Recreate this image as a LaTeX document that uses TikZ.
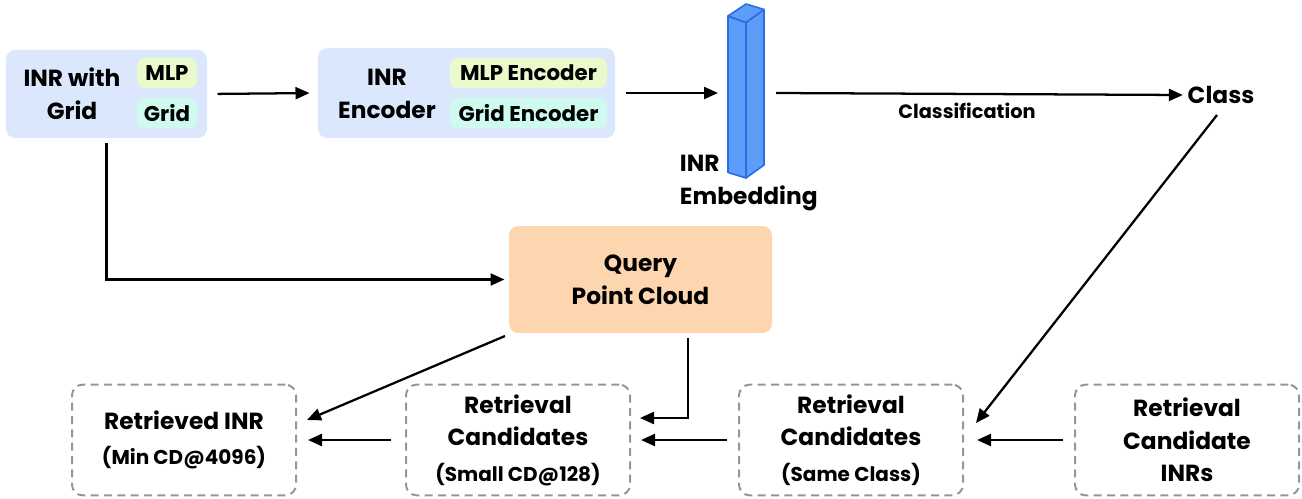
\documentclass[tikz,border=0pt]{standalone}
\usepackage{fontspec}
\setmainfont{Poppins}
\usetikzlibrary{arrows.meta}

\definecolor{boxblue}{RGB}{218,231,252}
\definecolor{pillgreen}{RGB}{235,250,205}
\definecolor{pillcyan}{RGB}{206,250,240}
\definecolor{peach}{RGB}{253,214,176}
\definecolor{barfill}{RGB}{92,157,247}
\definecolor{baredge}{RGB}{43,107,230}
\definecolor{dashgray}{RGB}{150,150,150}

\newcommand{\bigtxt}{\fontsize{17.5}{24.5}\selectfont\bfseries}
\newcommand{\subtxt}{\fontsize{15}{18}\selectfont\bfseries}

\tikzset{
	big/.style={font=\bigtxt},
	small/.style={font=\fontsize{16}{19}\selectfont\bfseries},
	tiny/.style={font=\fontsize{14.5}{17}\selectfont\bfseries},
	panel/.style={rounded corners=7pt, inner sep=0pt},
	pill/.style={rounded corners=6pt, minimum height=22.5pt, inner sep=0pt, small},
	dashbox/.style={draw=dashgray, line width=1.5pt, dash pattern={on 6pt off 4pt}, rounded corners=8pt, minimum width=168pt, minimum height=83pt, align=center, inner sep=0pt, font=\bigtxt},
	arr/.style={line width=1.7pt, -{Triangle[length=10.5pt,width=9pt]}}
}
\tikzset{every picture/.style={line width=0.75pt}}

\begin{document}
\begin{tikzpicture}[x=0.75pt,y=0.75pt,yscale=-1,xscale=1]
	\path[use as bounding box] (0,0) rectangle (1302,499);

	%Rounded Rect [id:inrgrid]
	\node [panel, fill=boxblue, minimum width=150.75pt, minimum height=66pt] (inrgrid) at (106.5,94) {};
	% Text Node
	\node [big, align=center] (inrgridtxt) at (72,94) {INR with\\Grid};
	%Rounded Rect [id:mlp]
	\node [pill, fill=pillgreen, minimum width=45pt] (mlp) at (167,73) {MLP};
	%Rounded Rect [id:grid]
	\node [pill, fill=pillcyan, minimum width=45pt] (grid) at (167,113) {Grid};

	%Rounded Rect [id:encoder]
	\node [panel, fill=boxblue, minimum width=222.75pt, minimum height=67.5pt] (encoder) at (466.5,93) {};
	% Text Node
	\node [big, align=center] (encodertxt) at (387,94) {INR\\Encoder};
	%Rounded Rect [id:mlpenc]
	\node [pill, fill=pillgreen, minimum width=117.75pt] (mlpenc) at (528.5,73) {MLP Encoder};
	%Rounded Rect [id:gridenc]
	\node [pill, fill=pillcyan, minimum width=117.75pt] (gridenc) at (528.5,113) {Grid Encoder};

	%Shape: Bar [id:embedding]
	\draw [fill=barfill, draw=baredge, line width=1.2pt, line join=round] (728,16) -- (746,22.5) -- (746,178) -- (728,172.5) -- cycle ;
	\draw [fill=barfill, draw=baredge, line width=1.2pt, line join=round] (746,22.5) -- (764,9.5) -- (764,165) -- (746,178) -- cycle ;
	\draw [fill=barfill, draw=baredge, line width=1.2pt, line join=round] (728,16) -- (746,4) -- (764,9.5) -- (746,22.5) -- cycle ;
	\coordinate (embin) at (718,93);
	\coordinate (embout) at (776,93);
	% Text Node
	\node [big, align=left, anchor=west] (embtxt) at (675,183) {INR\\Embedding};

	% Text Node
	\node [big] (cls) at (1221,95) {Class};
	% Text Node
	\node [tiny] (clsftxt) at (967,111) {Classification};

	%Rounded Rect [id:query]
	\node [panel, fill=peach, big, align=center, minimum width=197.25pt, minimum height=80.25pt] (query) at (640.5,279.5) {Query\\Point Cloud};

	%Dashed Boxes
	\node [dashbox] (retr) at (184,440) {Retrieved INR\\[2pt]\subtxt (Min CD@4096)};
	\node [dashbox] (small) at (518,440) {Retrieval\\Candidates\\[2pt]\subtxt (Small CD@128)};
	\node [dashbox] (same) at (851,440) {Retrieval\\Candidates\\[2pt]\subtxt (Same Class)};
	\node [dashbox] (cands) at (1187,440) {Retrieval\\Candidate\\INRs};

	%Arrows
	\draw [arr, shorten <=7.5pt, shorten >=6pt] (inrgrid.east) -- (encoder.west) ;
	\draw [arr, shorten <=7.5pt] (encoder.east) -- (embin) ;
	\draw [arr] (embout) -- (cls.west) ;
	\draw [arr, shorten <=3.75pt, shorten >=3pt] (inrgrid.south) |- (query.west) ;
	\coordinate (retrtop) at (307,420);
	\coordinate (querybl) at (505,336);
	\draw [arr] (querybl) -- (retrtop) ;
	\coordinate (querybot) at (688,338);
	\coordinate (smalltop) at (640,418);
	\draw [arr] (querybot) |- (smalltop) ;
	\coordinate (clsbot) at (1217,115);
	\coordinate (sametop) at (976,423);
	\draw [arr] (clsbot) -- (sametop) ;
	\draw [arr, shorten <=8.25pt, shorten >=9.75pt] (cands.west) -- (same.east) ;
	\draw [arr, shorten <=8.25pt, shorten >=7.5pt] (same.west) -- (small.east) ;
	\draw [arr, shorten <=10.5pt, shorten >=8.25pt] (small.west) -- (retr.east) ;

\end{tikzpicture}
\end{document}
